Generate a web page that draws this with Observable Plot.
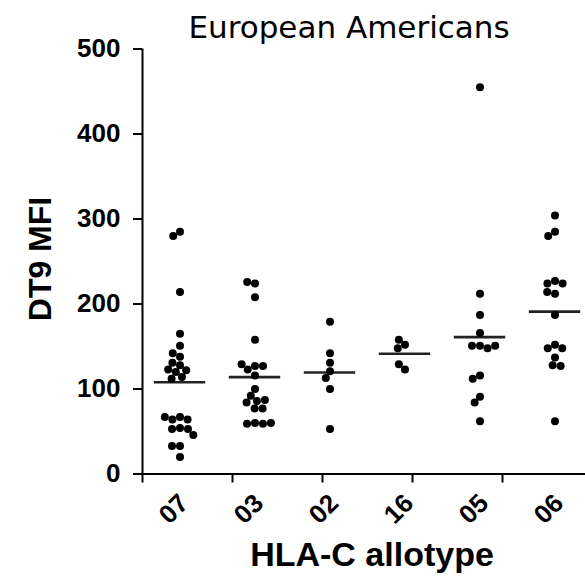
<!DOCTYPE html>
<html>
<head>
<meta charset="utf-8">
<script src="https://cdn.jsdelivr.net/npm/d3@7"></script>
<script src="https://cdn.jsdelivr.net/npm/@observablehq/plot@0.6"></script>
<style>
  html, body { margin: 0; padding: 0; background: white; overflow: hidden; }
  #wrap { position: relative; width: 585px; height: 577px; }
  #title { position: absolute; left: 149px; width: 400px; top: 12px; text-align: center;
           font-family: "DejaVu Sans", sans-serif; font-size: 31px; line-height: 31px; color: #000; }
  #axes { position: absolute; left: 0; top: 0; pointer-events: none; }
</style>
</head>
<body>
<div id="wrap"><div id="title">European Americans</div><div id="axes"></div></div>
<script>
// Categories (HLA-C allotypes), left to right
const categories = ["07", "03", "02", "16", "05", "06"];
// DT9 MFI values, one array per allotype
const hla07 = [285, 280, 214, 165, 151, 138, 142, 128, 131, 122, 120, 123, 114, 112, 67, 64, 64, 67, 54, 53, 53, 46, 33, 33, 20];
const hla03 = [224, 226, 208, 158, 127, 123, 127, 129, 116, 100, 92, 86, 87, 84, 77, 77, 60, 59, 59, 60];
const hla02 = [179, 142, 131, 121, 113, 100, 53];
const hla16 = [152, 148, 158, 123, 129];
const hla05 = [455, 212, 187, 166, 151, 151, 148, 151, 116, 112, 91, 84, 62];
const hla06 = [304, 285, 280, 227, 224, 224, 212, 214, 187, 152, 148, 148, 137, 128, 127, 62];
// Mean lines (as drawn)
const means = [108, 114, 119.5, 141.5, 161, 191];
// Y tick values
const yTicks = [0, 100, 200, 300, 400, 500];
const yLabel = "DT9 MFI";
const xLabel = "HLA-C allotype";

const groups = [hla07, hla03, hla02, hla16, hla05, hla06];
const points = groups.flatMap((vals, i) => vals.map(v => ({g: categories[i], v})));
const meanRows = categories.map((g, i) => ({g, m: means[i]}));
const yMin = yTicks[0], yMax = yTicks[yTicks.length - 1];
const facetRows = categories.map(g => ({g, left: 0, mid: 0.5, right: 1, base: yMin, top: yMax}));
const firstFacet = facetRows.slice(0, 1);
const midFacet = facetRows.slice(2, 3);

const font = "'Liberation Sans', Arial, Helvetica, sans-serif";
const frame = {width: 585, height: 577, marginLeft: 140, marginRight: -8.6, marginTop: 48.5, marginBottom: 103.5};

// Main faceted chart: dots, mean lines, y axis, labels
const chart = Plot.plot({
  ...frame,
  style: {fontFamily: font, background: "white", overflow: "visible"},
  fx: {domain: categories, padding: 0, label: null, axis: null},
  x: {domain: [0, 1], axis: null},
  y: {domain: [yMin, yMax], label: null, axis: null},
  marks: [
    Plot.axisY({ticks: yTicks, tickSize: 9, tickPadding: 13, strokeWidth: 2, fontSize: 26, fontWeight: "bold", label: null}),
    Plot.text(firstFacet, {fx: "g", x: "left", text: () => yLabel, frameAnchor: "middle", rotate: -90, lineAnchor: "bottom",
      dx: -92, dy: -2.5, fontSize: 32, fontWeight: "bold", fill: "black"}),
    Plot.axisFx({anchor: "bottom", tickRotate: -45, tickSize: 0, tickPadding: 23, dx: 4, dy: 2, fontSize: 26, fontWeight: "bold", label: null}),
    Plot.text(midFacet, {fx: "g", x: "mid", text: () => xLabel, frameAnchor: "bottom", lineAnchor: "bottom",
      dx: 42, dy: 92, fontSize: 34, fontWeight: "bold", fill: "black"}),
    Plot.ruleY(meanRows, {fx: "g", y: "m", insetLeft: 11.8, insetRight: 11.8, stroke: "#222", strokeWidth: 2.6}),
    Plot.dot(points, Plot.dodgeX({anchor: "middle", padding: 0}, {fx: "g", y: "v", r: 4, fill: "black"})),
    Plot.ruleX(firstFacet, {fx: "g", x: "left", y1: "base", y2: "top", stroke: "black", strokeWidth: 2})
  ]
});
document.getElementById("wrap").prepend(chart);

// Overlay (transparent, non-faceted) with the x axis line and its tick marks
const axes = Plot.plot({
  ...frame,
  style: {background: "transparent", overflow: "visible"},
  x: {domain: categories, padding: 0, label: null, axis: null},
  y: {domain: [yMin, yMax], label: null, axis: null},
  marks: [
    Plot.ruleY([yMin], {stroke: "black", strokeWidth: 2}),
    Plot.axisX({anchor: "bottom", tickSize: 9, strokeWidth: 2, tickFormat: () => "", label: null})
  ]
});
document.getElementById("axes").append(axes);
</script>
</body>
</html>
